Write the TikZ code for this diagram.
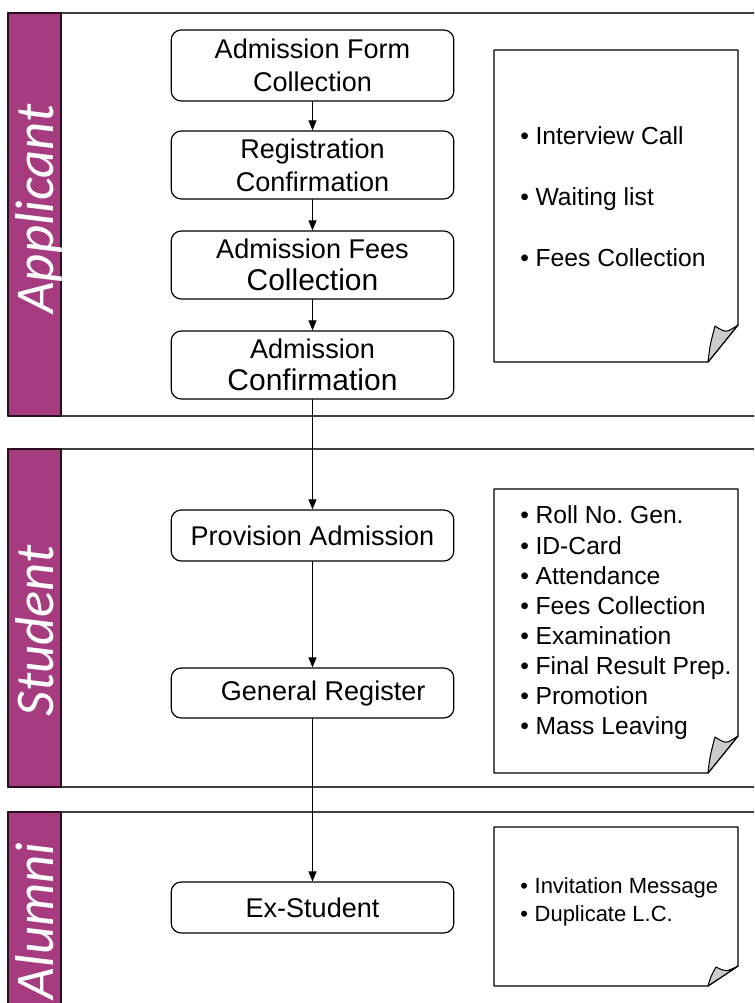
\documentclass[tikz,border=0pt]{standalone}
\usepackage{fontspec}
\setmainfont{Liberation Sans}
\newfontfamily\lanefont{Carlito}
\usetikzlibrary{arrows.meta}
\definecolor{lanepurple}{RGB}{166,59,127}
\definecolor{laneline}{RGB}{64,64,64}
\definecolor{foldgray}{RGB}{204,204,204}
\tikzset{
  stepbox/.style={draw,rounded corners=7.5pt,line width=0.9pt,minimum width=212pt,align=center,inner sep=0pt,font=\fontsize{20.3}{24.5}\selectfont},
  lanetitle/.style={rotate=90,anchor=base,text=white,inner sep=0pt,font=\lanefont\itshape\fontsize{41}{41}\selectfont},
  lanebar/.style={draw=black!75!lanepurple,fill=lanepurple,line width=1pt},
  laneedge/.style={draw=laneline,line width=1.5pt},
  notepage/.style={draw,fill=white,line width=1pt},
  notefold/.style={draw,fill=foldgray,line width=0.8pt},
  notetext/.style={anchor=west,align=left,inner sep=0pt},
  flow/.style={->,line width=0.8pt}
}
\begin{document}
\begin{tikzpicture}[line cap=round,line join=round,>={Triangle[length=7.5pt,width=6pt]},x=0.75pt,y=-0.75pt]
\clip(0,0) rectangle (754,1003);
\fill[white] (0,0) rectangle (754,1003);
% lanes
\draw[laneedge] (8,13) rectangle (790,416);
\draw[lanebar] (8,13) rectangle (61,416);
\draw[laneedge] (8,449) rectangle (790,787);
\draw[lanebar] (8,449) rectangle (61,787);
\draw[laneedge] (8,812) rectangle (790,1030);
\draw[lanebar] (8,812) rectangle (61,1030);
\node[lanetitle] (applicant) at (53,209) {Applicant};
\node[lanetitle] (student) at (53,631) {Student};
\node[lanetitle] (alumni) at (53,921) {Alumni};
% steps
\node[stepbox,minimum height=53.25pt] (form) at (312.5,65.5) {Admission Form\\Collection};
\node[stepbox,minimum height=51pt] (regconf) at (312.5,165) {Registration\\Confirmation};
\node[stepbox,minimum height=51pt] (feecoll) at (312.5,265) {Admission Fees\\{\fontsize{22.5}{24}\selectfont Collection}};
\node[stepbox,minimum height=51pt] (admconf) at (312.5,365) {Admission\\{\fontsize{22.5}{24}\selectfont Confirmation}};
\node[stepbox,minimum height=38.25pt] (provadm) at (312.5,535.5) {Provision Admission};
\node[stepbox,minimum height=37.5pt] (genreg) at (312.5,693) {\hspace*{16pt}General Register};
\node[stepbox,minimum height=38.25pt] (exstud) at (312.5,907.5) {Ex-Student};
\draw[flow] (form) -- (regconf);
\draw[flow] (regconf) -- (feecoll);
\draw[flow] (feecoll) -- (admconf);
\draw[flow] (admconf) -- (provadm);
\draw[flow] (provadm) -- (genreg);
\draw[flow] (genreg) -- (exstud);
% notes
\draw[notepage] (494,50) -- (738,50) -- (738,325) -- (708,362) -- (494,362) -- cycle;
\draw[notefold] (708,362) .. controls (710,345) .. (715,326) .. controls (726,333) .. (738,325) -- cycle;
\draw[notepage] (494,489) -- (738,489) -- (738,736) -- (708,773) -- (494,773) -- cycle;
\draw[notefold] (708,773) .. controls (710,756) .. (715,737) .. controls (726,744) .. (738,736) -- cycle;
\draw[notepage] (494,827) -- (738,827) -- (738,966) -- (708,986) -- (494,986) -- cycle;
\draw[notefold] (708,986) .. controls (711,976) .. (716,967) .. controls (726,972) .. (738,966) -- cycle;
\node[notetext,font=\fontsize{18.5}{45.75}\selectfont] (appnotes) at (520,197) {\textbullet\hspace{5pt}Interview Call\\\textbullet\hspace{5pt}Waiting list\\\textbullet\hspace{5pt}Fees Collection};
\node[notetext,font=\fontsize{18.5}{22.6}\selectfont] (studnotes) at (520,623) {\textbullet\hspace{5pt}Roll No.\ Gen.\\\textbullet\hspace{5pt}ID-Card\\\textbullet\hspace{5pt}Attendance\\\textbullet\hspace{5pt}Fees Collection\\\textbullet\hspace{5pt}Examination\\\textbullet\hspace{5pt}Final Result Prep.\\\textbullet\hspace{5pt}Promotion\\\textbullet\hspace{5pt}Mass Leaving};
\node[notetext,font=\fontsize{16.5}{21}\selectfont] (alumnotes) at (520,902) {\textbullet\hspace{5pt}Invitation Message\\\textbullet\hspace{5pt}Duplicate L.C.};
\end{tikzpicture}
\end{document}
